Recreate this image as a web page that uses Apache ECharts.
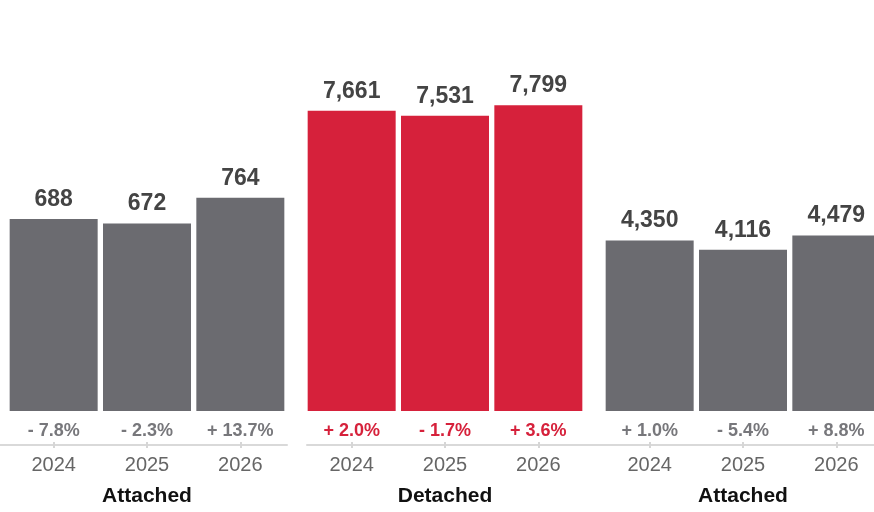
<!DOCTYPE html>
<html>
<head>
<meta charset="utf-8">
<script src="https://cdn.jsdelivr.net/npm/echarts@6/dist/echarts.min.js"></script>
<style>
  html, body { margin: 0; padding: 0; background: #fff; overflow: hidden; width: 874px; height: 512px; }
  #frame { width: 874px; height: 512px; overflow: hidden; position: relative; }
  /* canvas is a little wider than the frame so the last block runs off the edge */
  #chart { position: absolute; left: 0; top: 0; width: 883px; height: 512px; }
</style>
</head>
<body>
<div id="frame"><div id="chart"></div></div>
<script>
// Housing starts by type, three years each
const years = ['2024', '2025', '2026'];
const groupNames = ['Attached', 'Detached', 'Attached'];
const attachedA = [688, 672, 764];
const detached = [7661, 7531, 7799];
const attachedB = [4350, 4116, 4479];
const changeA = ['- 7.8%', '- 2.3%', '+ 13.7%'];
const changeD = ['+ 2.0%', '- 1.7%', '+ 3.6%'];
const changeB = ['+ 1.0%', '- 5.4%', '+ 8.8%'];

const GRAY = '#6b6b70';
const RED = '#d6213b';
const FONT = '"Liberation Sans", Arial, Helvetica, sans-serif';

const groups = [
  { values: attachedA, changes: changeA, color: GRAY, labelColor: '#77777b', max: 1258, left: 7 },
  { values: detached, changes: changeD, color: RED, labelColor: RED, max: 8956, left: 305 },
  { values: attachedB, changes: changeB, color: GRAY, labelColor: '#77777b', max: 8956, left: 603 }
];

const grid = [], xAxis = [], yAxis = [], series = [];

groups.forEach((g, i) => {
  grid.push({ left: g.left, width: 280, top: 60, bottom: 98 });
  // change percentages just under the bars
  xAxis.push({
    type: 'category', gridIndex: i, position: 'bottom', data: g.changes,
    axisLine: { show: false }, axisTick: { show: false },
    axisLabel: { margin: 11, fontFamily: FONT, fontSize: 18, fontWeight: 'bold', color: g.labelColor }
  });
  // years and group name below the baseline
  xAxis.push({
    type: 'category', gridIndex: i, position: 'bottom', offset: 31, data: years,
    axisLine: { show: false },
    axisTick: { show: true, alignWithLabel: true, length: 6, lineStyle: { color: '#d6d6d6', width: 2 } },
    axisLabel: { margin: 13, fontFamily: FONT, fontSize: 20, color: '#666666' },
    name: groupNames[i], nameLocation: 'middle', nameGap: 44,
    nameTextStyle: { fontFamily: FONT, fontSize: 21, fontWeight: 'bold', color: '#111111' }
  });
  yAxis.push({ type: 'value', gridIndex: i, min: 0, max: g.max, show: false });
  series.push({
    type: 'bar', xAxisIndex: 2 * i, yAxisIndex: i, data: g.values, barWidth: 88,
    itemStyle: { color: g.color },
    label: {
      show: true, position: 'top', distance: 8,
      fontFamily: FONT, fontSize: 23, fontWeight: 'bold', color: '#444444',
      formatter: p => p.value.toLocaleString('en-US')
    }
  });
});

// baseline rules under each block
[{ left: 0, width: 287 }, { left: 307, width: 576 }].forEach((r, k) => {
  const gi = groups.length + k;
  grid.push(Object.assign({ top: 60, bottom: 98 }, r));
  xAxis.push({
    type: 'value', gridIndex: gi, position: 'bottom', offset: 31,
    axisLine: { show: true, onZero: false, lineStyle: { color: '#d9d9d9', width: 2 } },
    axisTick: { show: false }, axisLabel: { show: false }, splitLine: { show: false }
  });
  yAxis.push({ type: 'value', gridIndex: gi, show: false });
});

const chart = echarts.init(document.getElementById('chart'), null, { renderer: 'canvas' });
chart.setOption({ animation: false, grid, xAxis, yAxis, series });
</script>
</body>
</html>
